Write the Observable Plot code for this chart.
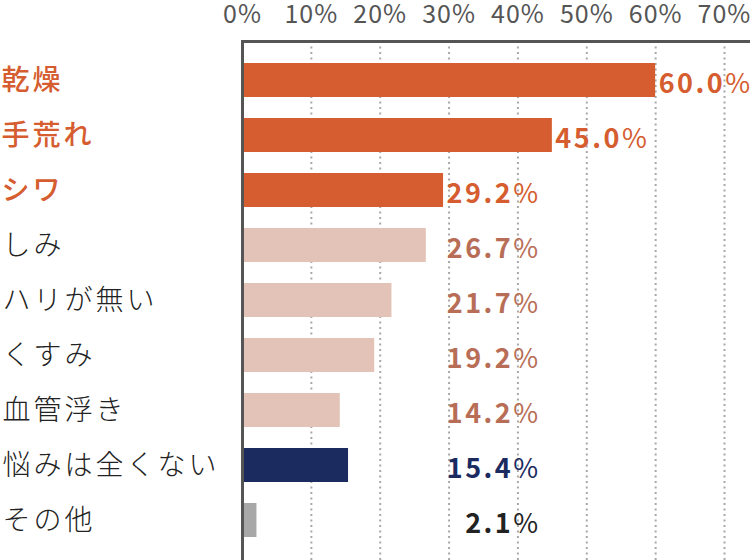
<!DOCTYPE html>
<html>
<head>
<meta charset="utf-8">
<script src="https://cdn.jsdelivr.net/npm/d3@7"></script>
<script src="https://cdn.jsdelivr.net/npm/@observablehq/plot@0.6"></script>
<style>
  html, body { margin: 0; padding: 0; background: #fff; }
  #chart svg { display: block; overflow: visible; }
</style>
</head>
<body>
<div id="chart"></div>
<script>
const categories = ["乾燥", "手荒れ", "シワ", "しみ", "ハリが無い", "くすみ", "血管浮き", "悩みは全くない", "その他"];
const values = [60.0, 45.0, 29.2, 26.7, 21.7, 19.2, 14.2, 15.4, 2.1];
const groups = ["top", "top", "top", "other", "other", "other", "other", "none", "misc"];
const xTicks = [0, 10, 20, 30, 40, 50, 60, 70];

const barColor = {top: "#d55d2f", other: "#e3c3b8", none: "#1b2a5f", misc: "#a8a8a8"};
const valueColor = {top: "#d55d2f", other: "#b86e56", none: "#1b2a5f", misc: "#222222"};
const catColor = {top: "#d55d2f", other: "#222222", none: "#222222", misc: "#222222"};

const data = categories.map((c, i) => ({category: c, value: values[i], group: groups[i]}));
const topData = data.filter(d => d.group === "top");
const restData = data.filter(d => d.group !== "top");
const fmt = d => d.value.toFixed(1) + "%";

const chart = Plot.plot({
  width: 750,
  height: 560,
  marginLeft: 242,
  marginRight: 0,
  marginTop: 41,
  marginBottom: 0,
  style: {fontFamily: "'Noto Sans CJK JP', 'Noto Sans', sans-serif", background: "#fff"},
  x: {domain: [0, 70], range: [242, 724], label: null},
  y: {domain: categories, range: [52.5, 547.5], paddingInner: 0.38, paddingOuter: 0.19, axis: null},
  marks: [
    Plot.ruleX(xTicks.slice(1), {stroke: "#a8a8a8", strokeWidth: 2, strokeDasharray: "2,3.5"}),
    Plot.barX(data, {x: "value", y: "category", fill: d => barColor[d.group]}),
    Plot.ruleX([0], {stroke: "#555", strokeWidth: 3}),
    Plot.frame({anchor: "top", stroke: "#555", strokeWidth: 3}),
    Plot.axisX({anchor: "top", ticks: xTicks, tickSize: 0, tickPadding: 19, tickFormat: d => d + "%", fontSize: 25, color: "#555", label: null}),
    Plot.text(topData, {y: "category", text: "category", frameAnchor: "left", dx: -241, dy: 1, textAnchor: "start", fill: d => catColor[d.group], fontSize: 28, fontWeight: 500}),
    Plot.text(restData, {y: "category", text: "category", frameAnchor: "left", dx: -240, dy: 1, textAnchor: "start", fill: d => catColor[d.group], fontSize: 28, fontWeight: 300}),
    Plot.text(topData, {x: "value", y: "category", text: fmt, textAnchor: "start", dx: 3, dy: 4, fill: d => valueColor[d.group], fontSize: 27, fontWeight: "bold"}),
    Plot.text(restData, {x: () => 43.3, y: "category", text: fmt, textAnchor: "end", dy: 4, fill: d => valueColor[d.group], fontSize: 27, fontWeight: "bold"})
  ]
});

document.getElementById("chart").appendChild(chart);

// typographic touches: letter spacing and lighter percent sign
chart.querySelectorAll("text").forEach(t => {
  const s = t.textContent;
  if (categories.includes(s)) {
    t.setAttribute("letter-spacing", "3");
  } else if (/^\d+\.\d%$/.test(s)) {
    const num = s.slice(0, -1);
    t.textContent = "";
    const a = document.createElementNS("http://www.w3.org/2000/svg", "tspan");
    a.textContent = num;
    const b = document.createElementNS("http://www.w3.org/2000/svg", "tspan");
    b.textContent = "%";
    b.setAttribute("font-weight", "normal");
    t.appendChild(a);
    t.appendChild(b);
    t.setAttribute("letter-spacing", "2.5");
  } else if (/^\d+%$/.test(s)) {
    t.setAttribute("letter-spacing", "1");
  }
});
</script>
</body>
</html>
